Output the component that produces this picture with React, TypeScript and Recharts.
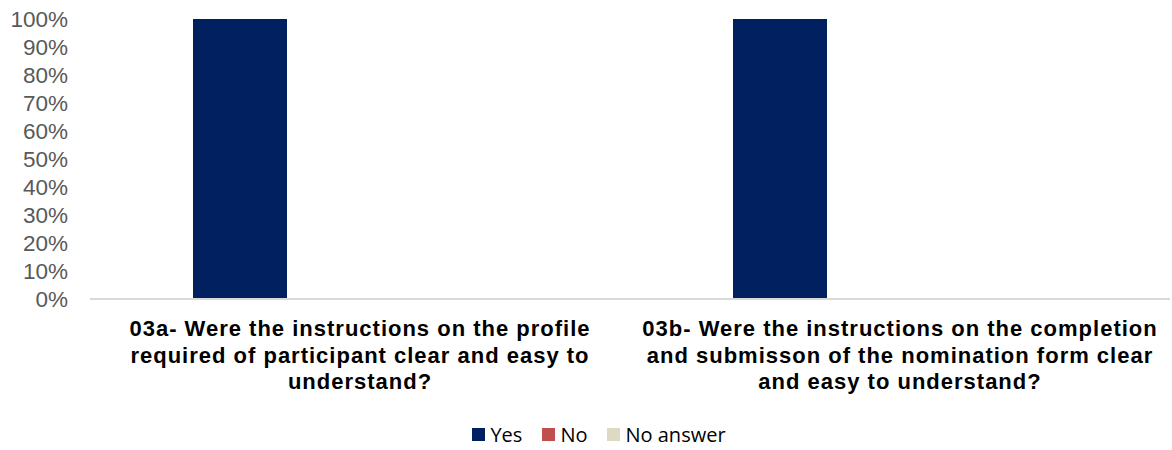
import { BarChart, Bar, XAxis, YAxis, Legend } from 'recharts';

const questions = [
  '03a- Were the instructions on the profile required of participant clear and easy to understand?',
  '03b- Were the instructions on the completion and submisson of the nomination form clear and easy to understand?',
];
const questionLines = [
  ['03a- Were the instructions on the profile', 'required of participant clear and easy to', 'understand?'],
  ['03b- Were the instructions on the completion', 'and submisson of the nomination form clear', 'and easy to understand?'],
];
const yesValues = [1, 1];
const noValues = [0, 0];
const noAnswerValues = [0, 0];
const yTicks = [0, 0.1, 0.2, 0.3, 0.4, 0.5, 0.6, 0.7, 0.8, 0.9, 1];

const seriesList = [
  { key: 'yes', name: 'Yes', color: '#002060' },
  { key: 'no', name: 'No', color: '#C0504D' },
  { key: 'noAnswer', name: 'No answer', color: '#DDD9C3' },
];

const data = questions.map((q, i) => ({
  question: q,
  yes: yesValues[i],
  no: noValues[i],
  noAnswer: noAnswerValues[i],
}));

function QuestionTick(props: any) {
  const { x, y, payload } = props;
  const idx = questions.indexOf(payload.value);
  const lines = questionLines[idx] || [payload.value];
  return (
    <text
      x={x}
      y={y}
      textAnchor="middle"
      fill="#000000"
      fontFamily="'Liberation Sans', Arial, sans-serif"
      fontWeight="bold"
      fontSize={22}
      letterSpacing={1}
    >
      {lines.map((l, i) => (
        <tspan key={i} x={x} dy={i === 0 ? 29 : 26.5}>
          {l}
        </tspan>
      ))}
    </text>
  );
}

function LegendContent() {
  return (
    <div
      style={{
        display: 'flex',
        justifyContent: 'center',
        alignItems: 'center',
        gap: 20,
        fontFamily: "'Open Sans', 'Noto Sans', sans-serif",
        fontSize: 20,
        color: '#000',
        paddingTop: 14,
        paddingLeft: 28,
      }}
    >
      {seriesList.map((s) => (
        <div key={s.key} style={{ display: 'flex', alignItems: 'center' }}>
          <span style={{ display: 'inline-block', width: 13, height: 13, background: s.color, marginRight: 5 }} />
          <span>{s.name}</span>
        </div>
      ))}
    </div>
  );
}

export default function App() {
  return (
    <div style={{ width: 1172, height: 450, background: '#fff' }}>
      <style>{`body{margin:0}`}</style>
      <BarChart
        width={1172}
        height={450}
        data={data}
        margin={{ top: 19, right: 2, bottom: 0, left: 0 }}
        barGap={26}
        barSize={94}
      >
        <XAxis
          dataKey="question"
          tick={<QuestionTick />}
          tickLine={false}
          axisLine={{ stroke: '#D9D9D9', strokeWidth: 2 }}
          height={108}
          interval={0}
        />
        <YAxis
          domain={[0, 1]}
          ticks={yTicks}
          tickFormatter={(v: number) => `${Math.round(v * 100)}%`}
          tick={{ fill: '#595959', fontSize: 22.5, fontFamily: "'Liberation Sans', Arial, sans-serif" }}
          tickLine={false}
          axisLine={false}
          tickSize={0}
          tickMargin={22}
          width={90}
          interval={0}
        />
        <Legend content={<LegendContent />} verticalAlign="bottom" height={43} />
        {seriesList.map((s) => (
          <Bar key={s.key} dataKey={s.key} name={s.name} fill={s.color} isAnimationActive={false} />
        ))}
      </BarChart>
    </div>
  );
}
